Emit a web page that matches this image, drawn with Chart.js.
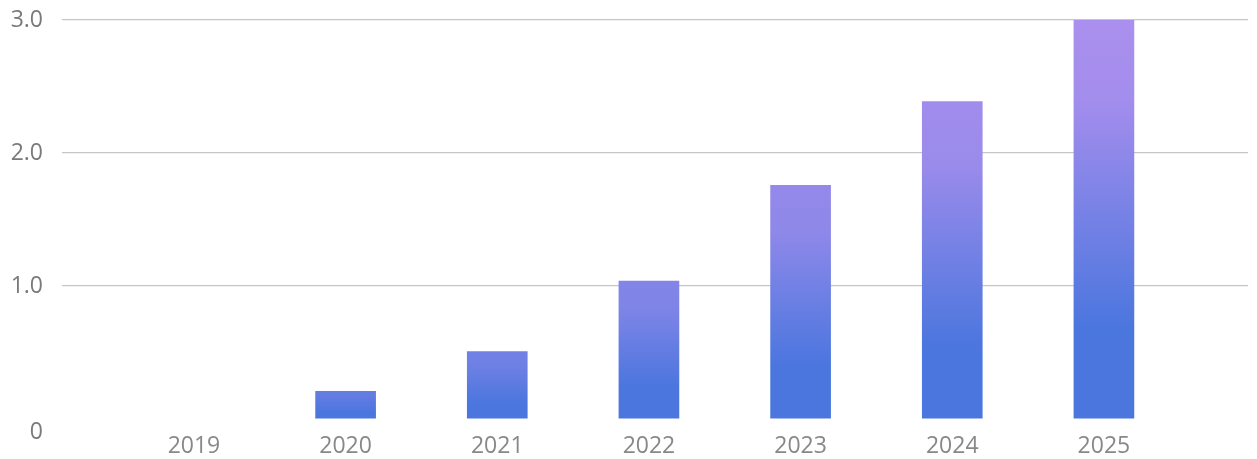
<!DOCTYPE html>
<html>
<head>
<meta charset="utf-8">
<script src="https://cdn.jsdelivr.net/npm/chart.js@4/dist/chart.umd.min.js"></script>
<style>
  html, body { margin: 0; padding: 0; background: #fff; }
  #wrap { width: 1257px; height: 459px; }
  canvas { display: block; }
</style>
</head>
<body>
<div id="wrap"><canvas id="chart" width="1257" height="459"></canvas></div>
<script>
// chart data
const years = ["2019", "2020", "2021", "2022", "2023", "2024", "2025"];
const values = [0, 0.21, 0.51, 1.04, 1.76, 2.39, 3.0];
const yTicks = [0, 1, 2, 3];

const purple = [170, 143, 238];
const blue = [74, 118, 222];

function mix(a, b, t) {
  return "rgb(" + a.map((c, i) => Math.round(c + (b[i] - c) * t)).join(",") + ")";
}

// each bar gets its own gradient, taller bars reach further into purple
function barFill(ctx) {
  const chart = ctx.chart;
  const area = chart.chartArea;
  if (!area || ctx.raw == null) return mix(blue, blue, 0);
  const y = chart.scales.y;
  const top = y.getPixelForValue(ctx.raw.y);
  const base = y.getPixelForValue(0);
  if (base - top < 1) return mix(blue, blue, 0);
  const t = Math.sqrt((base - top) / (area.bottom - area.top));
  const g = chart.ctx.createLinearGradient(0, top, 0, base);
  g.addColorStop(0, mix(blue, purple, t));
  g.addColorStop(0.2, mix(blue, purple, t * 0.93));
  g.addColorStop(0.78, mix(blue, blue, 0));
  g.addColorStop(1, mix(blue, blue, 0));
  return g;
}

const font = { family: "'Open Sans', sans-serif", size: 23 };

new Chart(document.getElementById("chart"), {
  type: "bar",
  data: {
    datasets: [{
      data: values.map((v, i) => ({ x: i, y: v })),
      backgroundColor: barFill,
      borderWidth: 0,
      barPercentage: 0.4,
      categoryPercentage: 1
    }]
  },
  options: {
    responsive: false,
    animation: false,
    layout: { padding: { left: 10, right: 9, top: 20, bottom: 0 } },
    plugins: { legend: { display: false }, tooltip: { enabled: false } },
    scales: {
      x: {
        type: "linear",
        offset: false,
        bounds: "data",
        min: -0.87,
        max: 6.95,
        afterBuildTicks: scale => { scale.ticks = years.map((_, i) => ({ value: i })); },
        afterFit: scale => { scale.height = 40; },
        ticks: {
          callback: v => years[v],
          font: font,
          color: "#888",
          padding: 6,
          maxRotation: 0,
          autoSkip: false
        },
        grid: { display: false },
        border: { display: false }
      },
      y: {
        min: 0,
        max: 3,
        afterBuildTicks: scale => { scale.ticks = yTicks.map(v => ({ value: v })); },
        afterFit: scale => {
          scale.width = 52;
          // don't let the tick labels push the plot area in
          scale.paddingTop = 0;
          scale.paddingBottom = 0;
        },
        ticks: {
          callback: v => v === 0 ? ["", "0"] : v.toFixed(1),
          font: font,
          color: "#7a7a7a",
          padding: 19
        },
        grid: {
          color: c => c.tick && c.tick.value === 0 ? "rgba(0,0,0,0)" : "#c6c6c6",
          lineWidth: 1.2,
          drawTicks: false
        },
        border: { display: false }
      }
    }
  }
});
</script>
</body>
</html>
